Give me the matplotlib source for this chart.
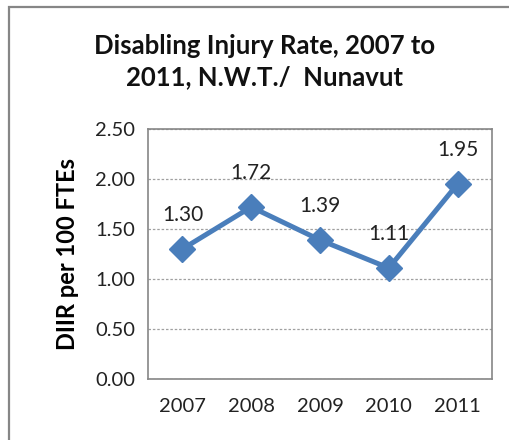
import matplotlib
matplotlib.use("Agg")
import matplotlib.pyplot as plt
from matplotlib.patches import Rectangle

years = ["2007", "2008", "2009", "2010", "2011"]
rates = [1.30, 1.72, 1.39, 1.11, 1.95]
labels = ["1.30", "1.72", "1.39", "1.11", "1.95"]
yticks = [0.0, 0.5, 1.0, 1.5, 2.0, 2.5]
title = "Disabling Injury Rate, 2007 to\n2011, N.W.T./  Nunavut"
ylabel = "DIIR per 100 FTEs"

plt.rcParams['font.family'] = ['Lato', 'DejaVu Sans']

W, H = 509, 440
fig = plt.figure(figsize=(W/100, H/100), dpi=100)

# outer chart border (left and top visible)
fig.patches.append(Rectangle((9/W, -0.1), 1.2, 1 - 7/H + 0.1, transform=fig.transFigure,
                             fill=False, edgecolor='#868686', linewidth=1.6))

left, right, top, bottom = 148, 492, 129, 379
ax = fig.add_axes([left/W, 1 - bottom/H, (right-left)/W, (bottom-top)/H])
x = list(range(len(years)))
ax.plot(x, rates, color='#4A7EBB', linewidth=3.6, marker='D', markersize=13,
        markerfacecolor='#4A7EBB', markeredgecolor='#4A7EBB')
for xi, v, t in zip(x, rates, labels):
    ax.annotate(t, (xi, v), xytext=(0, 17), textcoords='offset points',
                ha='center', va='bottom', fontsize=15, color='#222222')

ax.set_xlim(-0.5, len(years) - 0.5)
ax.set_ylim(0, 2.5)
ax.set_yticks(yticks)
ax.set_yticklabels([f"{t:.2f}" for t in yticks])
ax.set_xticks(x)
ax.set_xticklabels(years)
ax.tick_params(axis='both', length=0, labelsize=14.5, colors='#222222', pad=9)
ax.tick_params(axis='x', pad=14)
ax.yaxis.grid(True, linestyle=(0, (2, 1.5)), color='#A0A0A0', linewidth=0.9)
ax.set_axisbelow(True)
for s in ax.spines.values():
    s.set_color('#868686')
    s.set_linewidth(1.2)

ax.set_ylabel(ylabel, fontsize=17, fontweight='bold', labelpad=12)
fig.text(0.5 * (95 + 435) / W, 1 - 62/H, title, ha='center', va='center',
         fontsize=18.5, fontweight='bold', linespacing=1.35, color='#111111')

fig.savefig("out.png", dpi=100)
